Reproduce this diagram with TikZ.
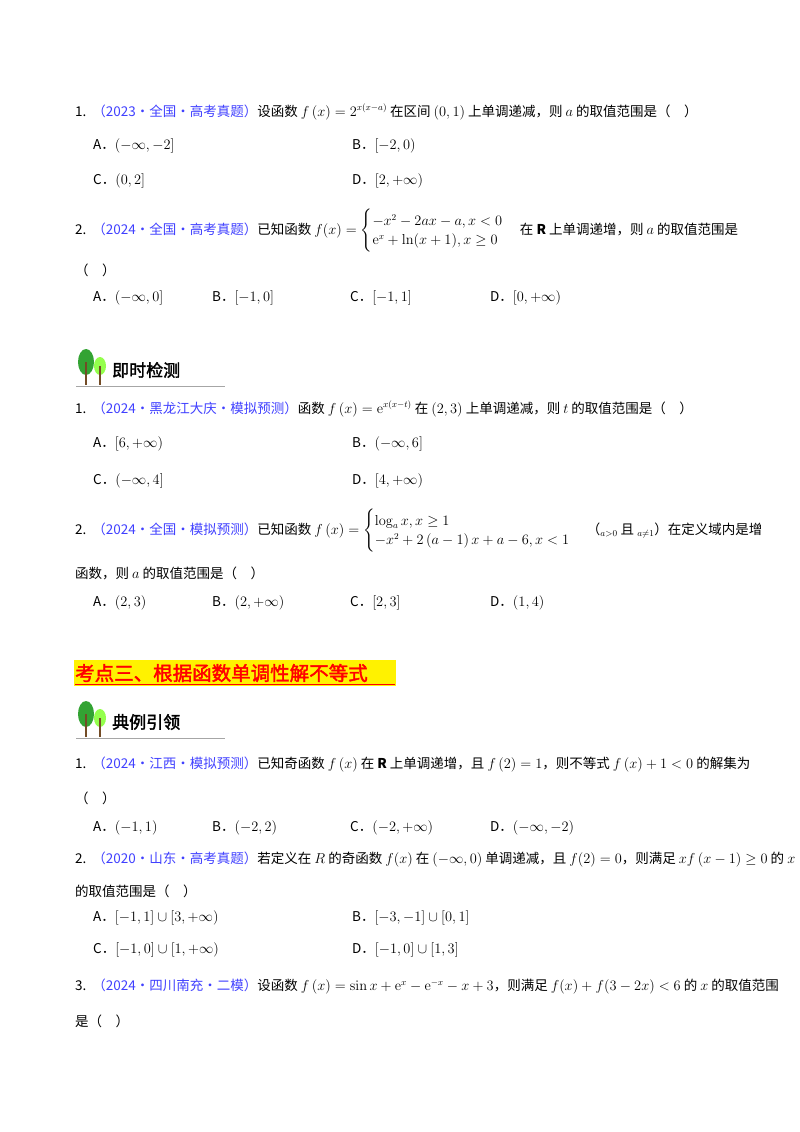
\documentclass[tikz,border=0pt]{standalone}
\usepackage{amsmath}
\usepackage[no-math]{fontspec}
\setmainfont{Noto Sans CJK SC}
\newfontfamily\cjkb[FakeBold=2]{Noto Sans CJK SC}
\begin{document}
\begin{tikzpicture}[x=1pt,y=-1pt,
  t/.style={anchor=west,inner sep=0pt,font=\fontsize{13.5}{16}\selectfont}]
\useasboundingbox (0,0) rectangle (800,1132);
\newcommand{\Src}[1]{\textcolor{blue!75!white}{（#1）}}
\newcommand{\tree}[2]{%
 \fill[green!55!black!80] (#1+9,#2+13) ellipse (8 and 13);
 \fill[green!60!yellow!70] (#1+23,#2+17) ellipse (6 and 9);
 \draw[brown!60!black,line width=1.3pt] (#1+9,#2+13)--(#1+9,#2+36) (#1+23,#2+17)--(#1+23,#2+36);}
% Section A
\node[t] (q1) at (75,112) {1.\ \ \Src{2023·全国·高考真题}设函数 $f\left(x\right)=2^{x(x-a)}$ 在区间 $\left(0,1\right)$ 上单调递减，则 $a$ 的取值范围是（\quad）};
\node[t] (a1) at (93,146) {A．$\left(-\infty,-2\right]$};
\node[t] (b1) at (352,146) {B．$\left[-2,0\right)$};
\node[t] (c1) at (93,181) {C．$\left(0,2\right]$};
\node[t] (d1) at (352,181) {D．$\left[2,+\infty\right)$};
\node[t] (q2) at (75,231) {2.\ \ \Src{2024·全国·高考真题}已知函数 $f(x)=\begin{cases}-x^2-2ax-a,x<0\\ \mathrm{e}^x+\ln(x+1),x\ge 0\end{cases}$ 在 \textbf{R} 上单调递增，则 $a$ 的取值范围是};
\node[t] (q2b) at (75,270) {（\quad）};
\node[t] at (93,298) {A．$\left(-\infty,0\right]$};
\node[t] at (212,298) {B．$\left[-1,0\right]$};
\node[t] at (350,298) {C．$\left[-1,1\right]$};
\node[t] at (490,298) {D．$\left[0,+\infty\right)$};
% header 即时检测
\tree{77}{349}
\draw[gray!70,line width=1pt] (76,386)--(225,386);
\node[t,font=\fontsize{17}{20}\cjkb] (h1) at (112,370) {即时检测};
\node[t] at (75,409) {1.\ \ \Src{2024·黑龙江大庆·模拟预测}函数 $f\left(x\right)=\mathrm{e}^{x(x-t)}$ 在 $\left(2,3\right)$ 上单调递减，则 $t$ 的取值范围是（\quad）};
\node[t] at (93,444) {A．$\left[6,+\infty\right)$};
\node[t] at (352,444) {B．$\left(-\infty,6\right]$};
\node[t] at (93,481) {C．$\left(-\infty,4\right]$};
\node[t] at (352,481) {D．$\left[4,+\infty\right)$};
\node[t] at (75,531) {2.\ \ \Src{2024·全国·模拟预测}已知函数 $f\left(x\right)=\begin{cases}\log_a x,x\ge1\\ -x^2+2\left(a-1\right)x+a-6,x<1\end{cases}$ （$_{a>0}$\ 且\ $_{a\ne1}$）在定义域内是增};
\node[t] at (75,573) {函数，则 $a$ 的取值范围是（\quad）};
\node[t] at (93,603) {A．$\left(2,3\right)$};
\node[t] at (212,603) {B．$\left(2,+\infty\right)$};
\node[t] at (350,603) {C．$\left[2,3\right]$};
\node[t] at (490,603) {D．$\left(1,4\right)$};
% 考点三
\fill[yellow] (74,660) rectangle (396,686);
\node[t,font=\fontsize{19.5}{22}\cjkb,text=red] (k3) at (75,673) {考点三、根据函数单调性解不等式};
\draw[red,line width=1pt] (75,684)--(395,684);
% 典例引领
\tree{77}{701}
\draw[gray!70,line width=1pt] (76,738)--(225,738);
\node[t,font=\fontsize{17}{20}\cjkb] at (112,722) {典例引领};
\node[t] at (75,765) {1.\ \ \Src{2024·江西·模拟预测}已知奇函数 $f\left(x\right)$ 在 \textbf{R} 上单调递增，且 $f\left(2\right)=1$，则不等式 $f\left(x\right)+1<0$ 的解集为};
\node[t] at (75,798) {（\quad）};
\node[t] at (93,828) {A．$\left(-1,1\right)$};
\node[t] at (212,828) {B．$\left(-2,2\right)$};
\node[t] at (350,828) {C．$\left(-2,+\infty\right)$};
\node[t] at (490,828) {D．$\left(-\infty,-2\right)$};
\node[t] at (75,860) {2.\ \ \Src{2020·山东·高考真题}若定义在 $R$ 的奇函数 $f(x)$ 在 $\left(-\infty,0\right)$ 单调递减，且 $f(2)=0$，则满足 $xf\left(x-1\right)\ge0$ 的 $x$};
\node[t] at (75,891) {的取值范围是（\quad）};
\node[t] at (93,918) {A．$[-1,1]\cup[3,+\infty)$};
\node[t] at (352,918) {B．$[-3,-1]\cup[0,1]$};
\node[t] at (93,950) {C．$[-1,0]\cup[1,+\infty)$};
\node[t] at (352,950) {D．$[-1,0]\cup[1,3]$};
\node[t] at (75,987) {3.\ \ \Src{2024·四川南充·二模}设函数 $f\left(x\right)=\sin x+\mathrm{e}^x-\mathrm{e}^{-x}-x+3$，则满足 $f(x)+f(3-2x)<6$ 的 $x$ 的取值范围};
\node[t] at (75,1021) {是（\quad）};
\end{tikzpicture}
\end{document}
